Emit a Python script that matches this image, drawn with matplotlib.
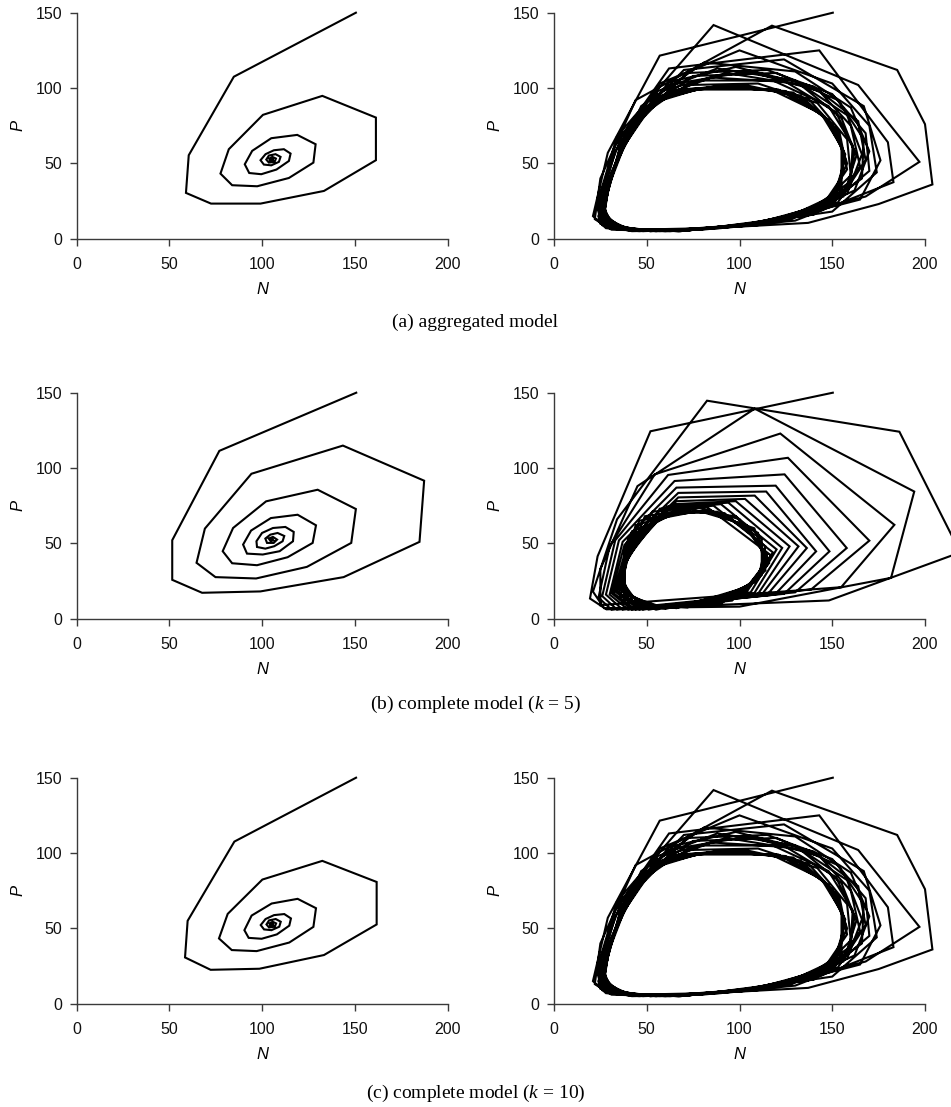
import matplotlib
matplotlib.use("Agg")
from matplotlib import pyplot as plt

plt.rcParams['font.family'] = ['Liberation Sans', 'DejaVu Sans']
plt.rcParams['mathtext.fontset'] = 'custom'
plt.rcParams['mathtext.rm'] = 'Liberation Serif'
plt.rcParams['mathtext.it'] = 'Liberation Serif:italic'

# --- (a) aggregated model, left: damped spiral into the equilibrium ---
A_LEFT_N = [150.5, 84.7, 60.4, 58.9, 72.4, 99.1, 133.3, 161.3, 161.3, 132.4, 100.4, 82.0,
            77.5, 83.8, 97.3, 114.4, 127.6, 128.8, 118.9, 104.9, 94.6, 90.6, 93.0, 99.5,
            107.7, 114.4, 115.3, 111.7, 106.3, 101.8, 99.1, 100.9, 104.9, 109.0, 109.9, 107.2,
            103.6, 102.2, 103.6, 106.7, 107.4, 105.5, 103.8, 104.2, 105.9, 105.6, 104.6, 104.8, 105.2]
A_LEFT_P = [150.0, 107.5, 55.4, 30.4, 23.3, 23.3, 31.7, 52.1, 80.4, 94.8, 82.2, 59.4,
            43.2, 35.5, 34.8, 40.3, 50.5, 62.7, 68.9, 66.7, 58.3, 49.4, 43.6, 42.8,
            45.9, 51.6, 56.5, 59.4, 58.7, 56.1, 52.1, 49.2, 48.7, 51.0, 54.3, 56.1,
            55.2, 52.5, 50.5, 51.0, 53.2, 54.3, 53.2, 51.6, 51.8, 53.2, 52.9, 52.2, 52.6]

# --- (a) aggregated model, right: spiral onto a limit cycle ---
A_RIGHT_N = [150.3, 57.0, 29.0, 21.0, 28.0, 46.0, 85.0, 137.0, 175.0, 204.0, 200.0, 185.0, 117.5,
             44.0, 25.0, 22.0, 31.0, 60.0, 110.0, 168.0, 197.0, 164.0, 86.0,
             34.0, 23.0, 26.0, 42.0, 80.0, 130.0, 183.0, 180.0, 143.0, 62.0,
             33.0, 24.0, 25.0, 38.0, 68.0, 118.0, 165.0, 176.0, 167.0, 124.0, 70.0,
             37.0, 25.0, 24.0, 32.0, 55.0, 100.0, 150.0, 174.0, 170.0, 150.0, 100.0, 57.0,
             33.0, 25.0, 27.0, 42.0, 78.0, 128.0, 162.0, 170.0, 160.0, 130.0, 81.0, 47.0,
             31.0, 25.0, 30.0, 52.0, 95.0, 140.0, 166.0, 167.0, 153.0, 120.0, 75.0, 45.0,
             30.0, 25.0, 33.0, 60.0, 108.0, 150.0, 165.0, 160.0, 143.0, 105.0, 66.0, 40.0,
             29.0, 24.0, 31.0, 55.0, 100.0, 145.0, 170.0, 168.0, 150.0, 115.0, 72.0, 42.0,
             29.0, 25.0, 34.0, 63.0, 112.0, 153.0, 168.0, 164.0, 140.0, 98.0, 62.0, 39.0,
             28.0, 26.0, 38.0, 72.0, 122.0, 158.0, 166.0, 158.0, 130.0, 88.0, 56.0, 36.0,
             28.0, 26.0, 37.0, 68.0, 118.0, 156.0, 163.0, 155.0, 133.0, 93.0, 58.0, 38.0,
             28.0, 27.0, 40.0, 75.0, 126.0, 159.0, 162.0, 152.0, 125.0, 85.0, 54.0, 35.0,
             27.0, 28.0, 44.0, 83.0, 133.0, 160.0, 161.0, 148.0, 118.0, 78.0, 50.0, 33.0,
             27.0, 29.0, 48.0, 90.0, 139.0, 160.0, 158.0, 142.0, 110.0, 72.0, 47.0, 32.0,
             27.0, 31.0, 52.0, 96.0, 143.0, 158.0, 154.0, 137.0, 103.0, 67.0, 44.0, 31.0,
             27.0, 33.0, 57.0, 102.0, 147.0, 158.0, 152.0, 133.0, 97.0, 63.0, 42.0, 30.0,
             27.0, 35.0, 62.0, 108.0, 150.0, 157.0, 150.0, 129.0, 91.0, 60.0, 40.0, 29.0,
             27.0, 37.0, 67.0, 113.0, 152.0, 157.0, 148.0, 125.0, 86.0, 57.0, 38.0, 29.0,
             27.0, 39.0, 72.0, 118.0, 154.0, 156.0, 146.0, 121.0, 81.0, 55.0, 37.0, 28.0,
             27.0, 41.0, 77.0, 123.0, 155.0, 155.0, 144.0, 117.0, 77.0, 53.0, 36.0, 28.0]
A_RIGHT_P = [150.0, 121.5, 57.0, 15.0, 7.0, 5.0, 7.0, 10.5, 23.0, 36.0, 76.0, 112.0, 141.4,
             92.0, 40.0, 13.0, 6.0, 5.0, 9.0, 28.0, 51.0, 102.0, 141.8,
             68.0, 22.0, 9.0, 5.0, 6.0, 12.0, 37.5, 64.0, 125.0, 113.0,
             62.0, 24.0, 10.0, 6.0, 5.0, 11.0, 26.0, 52.0, 88.0, 119.0, 112.0,
             70.0, 30.0, 12.0, 7.0, 5.0, 9.0, 18.0, 44.0, 75.0, 103.0, 125.0, 103.0,
             58.0, 23.0, 10.0, 6.0, 6.0, 13.0, 32.0, 58.0, 87.0, 111.0, 117.0, 88.0,
             44.0, 17.0, 8.0, 5.0, 8.0, 16.0, 40.0, 66.0, 92.0, 110.0, 108.0, 82.0,
             40.0, 15.0, 7.0, 5.0, 9.0, 22.0, 48.0, 75.0, 98.0, 111.0, 103.0, 70.0,
             36.0, 15.0, 7.0, 5.0, 8.0, 19.0, 45.0, 70.0, 96.0, 112.0, 110.0, 76.0,
             35.0, 15.0, 7.0, 5.0, 10.0, 24.0, 52.0, 78.0, 101.0, 114.0, 104.0, 68.0,
             31.0, 13.0, 6.0, 5.5, 12.0, 30.0, 56.0, 82.0, 105.0, 113.0, 98.0, 60.0,
             33.0, 14.0, 6.0, 5.0, 11.0, 28.0, 55.0, 80.0, 102.0, 110.0, 98.0, 62.0,
             30.0, 12.0, 6.0, 6.0, 13.0, 33.0, 58.0, 84.0, 104.0, 107.0, 93.0, 56.0,
             26.0, 11.0, 6.0, 7.0, 15.0, 38.0, 62.0, 88.0, 105.0, 105.0, 88.0, 50.0,
             23.0, 10.0, 5.0, 7.0, 17.0, 42.0, 66.0, 90.0, 103.0, 102.0, 84.0, 46.0,
             21.0, 9.0, 5.0, 8.0, 19.0, 46.0, 70.0, 93.0, 102.0, 99.0, 79.0, 42.0,
             19.0, 8.0, 5.0, 9.0, 21.0, 50.0, 73.0, 95.0, 102.0, 98.0, 76.0, 38.0,
             17.0, 7.0, 5.0, 10.0, 24.0, 53.0, 76.0, 97.0, 101.0, 96.0, 72.0, 34.0,
             16.0, 7.0, 5.0, 10.5, 26.0, 56.0, 79.0, 98.0, 101.0, 94.0, 69.0, 31.0,
             15.0, 6.0, 5.5, 11.5, 28.0, 58.0, 81.0, 99.0, 100.0, 92.0, 66.0, 28.0,
             14.0, 6.0, 6.0, 12.5, 31.0, 61.0, 83.0, 99.0, 99.0, 90.0, 63.0, 26.0]

# --- (b) complete model (k = 5) ---
B_LEFT_N = [150.7, 76.9, 51.5, 51.5, 67.6, 99.0, 143.9, 184.8, 187.3, 143.5, 94.2, 69.1,
            64.6, 74.8, 96.7, 124.1, 148.0, 150.5, 129.9, 102.1, 84.3, 78.7, 83.8, 97.2,
            113.7, 127.2, 129.0, 119.1, 104.7, 94.0, 89.7, 91.8, 100.3, 109.4, 116.6, 117.0,
            112.5, 105.8, 99.9, 96.9, 97.2, 101.7, 106.5, 111.0, 111.9, 108.3, 104.4, 101.7,
            102.6, 106.2, 108.0, 105.8, 103.5, 104.5, 106.0, 105.5, 104.6, 105.0]
B_LEFT_P = [150.0, 111.4, 52.1, 25.8, 17.2, 18.1, 27.6, 51.0, 91.6, 114.9, 96.2, 59.8,
            37.1, 27.6, 26.7, 34.4, 50.3, 72.8, 85.6, 77.9, 60.2, 44.8, 36.8, 35.5,
            40.8, 50.3, 62.0, 69.0, 66.8, 58.5, 49.2, 43.2, 42.6, 44.8, 51.4, 57.6,
            60.9, 60.2, 56.9, 51.4, 47.6, 46.5, 48.1, 51.4, 54.9, 56.9, 55.8, 53.2,
            50.3, 50.3, 52.5, 54.3, 53.2, 51.6, 52.0, 53.0, 52.8, 52.3]

B_RIGHT_N = [150.3, 52.0, 23.5, 19.4, 28.3, 148.2, 219.0, 186.2, 82.5,
             34.0, 21.0, 27.0, 100.0, 181.7, 194.2, 108.2,
             45.0, 25.0, 25.0, 154.8, 183.5, 122.0,
             54.3, 30.0, 24.0, 31.0, 138.6, 170.0, 126.1,
             61.5, 33.0, 26.0, 34.0, 130.0, 157.8, 124.3,
             65.0, 35.0, 28.0, 37.0, 124.0, 148.5, 119.5,
             66.0, 37.0, 30.0, 40.0, 119.0, 141.3, 114.4,
             67.0, 38.0, 31.0, 42.0, 115.0, 136.3, 108.2,
             67.0, 39.0, 32.0, 44.0, 112.0, 131.8, 103.0,
             66.0, 40.0, 33.0, 46.0, 110.0, 127.0, 98.0,
             64.0, 40.0, 34.0, 48.0, 108.0, 123.0, 94.0,
             61.0, 40.0, 35.0, 51.0, 106.0, 120.0, 90.0,
             57.0, 39.0, 36.0, 55.0, 104.0, 118.0, 86.0,
             53.0, 38.0, 38.0, 60.0, 103.0, 117.0, 82.0,
             49.0, 37.0, 40.0, 66.0, 104.0, 116.0, 100.0, 78.0,
             46.0, 36.0, 43.0, 72.0, 106.0, 116.0, 104.0, 74.0,
             44.0, 36.0, 46.0, 78.0, 108.0, 115.0, 98.0, 70.0,
             42.0, 35.0, 49.0, 84.0, 110.0, 114.0, 92.0, 66.0,
             40.0, 36.0, 52.0, 90.0, 112.0, 112.0, 88.0, 62.0,
             39.0, 37.0, 56.0, 96.0, 114.0, 110.0, 84.0, 58.0,
             38.0, 38.0, 60.0, 100.0, 115.0, 108.0, 80.0, 55.0]
B_RIGHT_P = [150.0, 124.4, 41.4, 13.4, 6.2, 12.1, 44.0, 124.1, 144.7,
             66.0, 18.0, 7.0, 8.0, 27.1, 84.4, 139.4,
             88.0, 33.0, 9.0, 20.9, 62.3, 122.9,
             95.8, 48.0, 14.0, 6.0, 19.4, 51.8, 106.8,
             95.4, 52.0, 15.0, 6.0, 17.5, 46.9, 95.8,
             91.4, 52.0, 16.0, 6.0, 16.5, 44.7, 88.3,
             87.0, 51.0, 16.0, 6.0, 16.0, 44.7, 84.4,
             83.5, 49.0, 17.0, 6.0, 16.0, 46.9, 81.7,
             80.5, 47.0, 17.0, 6.0, 16.0, 48.0, 79.5,
             78.0, 45.0, 18.0, 6.0, 16.5, 48.0, 78.0,
             76.0, 43.0, 18.0, 6.0, 17.0, 47.0, 77.0,
             74.5, 41.0, 17.0, 6.0, 17.5, 46.0, 76.0,
             73.0, 38.0, 15.0, 6.0, 18.0, 44.0, 75.0,
             71.0, 35.0, 13.0, 6.5, 19.0, 42.0, 74.5,
             68.0, 32.0, 11.0, 7.0, 21.0, 39.0, 66.0, 74.0,
             65.0, 29.0, 10.0, 7.5, 22.0, 37.0, 62.0, 73.0,
             62.0, 26.0, 9.0, 8.0, 24.0, 43.0, 68.0, 72.0,
             58.0, 23.0, 8.0, 9.0, 26.0, 48.0, 70.0, 71.0,
             54.0, 20.0, 7.5, 10.0, 29.0, 53.0, 71.0, 70.0,
             50.0, 18.0, 7.0, 12.0, 32.0, 57.0, 72.0, 68.0,
             46.0, 16.0, 7.0, 14.0, 36.0, 60.0, 72.0, 66.0]

# --- (c) complete model (k = 10) ---
C_LEFT_N = [150.6, 85.0, 59.8, 58.4, 72.2, 98.5, 133.3, 161.7, 161.7, 132.4, 100.1, 81.4,
            76.7, 83.6, 97.0, 114.6, 127.6, 129.0, 119.1, 105.1, 94.3, 90.4, 92.7, 99.7,
            107.9, 114.6, 115.5, 111.9, 106.4, 101.8, 99.2, 101.0, 105.0, 109.2, 110.0, 107.3,
            103.7, 102.3, 103.7, 106.8, 107.5, 105.6, 103.9, 104.3, 106.0, 105.7, 104.7, 104.9, 105.3]
C_LEFT_P = [150.0, 107.6, 55.0, 30.7, 22.5, 23.2, 32.3, 52.6, 80.8, 94.8, 82.4, 59.6,
            43.3, 35.6, 34.9, 40.6, 51.0, 63.4, 69.6, 66.5, 58.5, 48.8, 43.7, 43.1,
            46.0, 51.8, 56.6, 59.5, 58.8, 56.2, 52.2, 49.3, 48.8, 51.1, 54.4, 56.2,
            55.3, 52.6, 50.6, 51.1, 53.3, 54.4, 53.3, 51.7, 51.9, 53.3, 53.0, 52.3, 52.7]

# the right-hand (c) trajectory reads the same as (a) at this resolution
C_RIGHT_N = list(A_RIGHT_N)
C_RIGHT_P = list(A_RIGHT_P)

CAPTIONS = ['(a) aggregated model', '(b) complete model ($k$ = 5)', '(c) complete model ($k$ = 10)']
ROWS = [(A_LEFT_N, A_LEFT_P, A_RIGHT_N, A_RIGHT_P),
        (B_LEFT_N, B_LEFT_P, B_RIGHT_N, B_RIGHT_P),
        (C_LEFT_N, C_LEFT_P, C_RIGHT_N, C_RIGHT_P)]

W, H = 951, 1107
AX_TOP = [12.7, 392.7, 777.7]
AX_H = 226.0
AX_LEFT = [76.7, 554.0]
AX_W = 371.0
CAP_Y = [322, 704, 1093]
AXIS_COL = '#3a3a3a'


def style_axes(ax):
    for side in ['top', 'right']:
        ax.spines[side].set_visible(False)
    for side in ['left', 'bottom']:
        ax.spines[side].set_color(AXIS_COL)
        ax.spines[side].set_linewidth(1.0)
    ax.set_xlim(0, 200)
    ax.set_ylim(0, 150)
    ax.set_xticks([0, 50, 100, 150, 200])
    ax.set_yticks([0, 50, 100, 150])
    ax.tick_params(direction='out', length=5, width=1.0, color=AXIS_COL, labelsize=11.5, labelcolor='#111111')
    ax.tick_params(axis='x', pad=8.5)
    ax.tick_params(axis='y', pad=5.5)
    ax.set_xlabel('N', fontstyle='italic', fontsize=12, va='center')
    ax.set_ylabel('P', fontstyle='italic', fontsize=12, va='center')
    ax.xaxis.set_label_coords(0.5, -(289 - 238.3) / AX_H)
    ax.yaxis.set_label_coords((17.5 - 76.7) / AX_W, 0.5)
    ax.set_facecolor('none')


fig = plt.figure(figsize=(W / 100, H / 100), dpi=100)
for r, (ln, lp, rn, rp) in enumerate(ROWS):
    for c, (xs, ys) in enumerate([(ln, lp), (rn, rp)]):
        ax = fig.add_axes([AX_LEFT[c] / W, 1 - (AX_TOP[r] + AX_H) / H, AX_W / W, AX_H / H])
        ax.plot(xs, ys, color='black', lw=1.5, solid_joinstyle='miter', clip_on=False)
        style_axes(ax)
    fig.text(0.5, 1 - CAP_Y[r] / H, CAPTIONS[r], ha='center', va='center',
             fontsize=14, family='Liberation Serif')

fig.savefig('out.png', dpi=100)
